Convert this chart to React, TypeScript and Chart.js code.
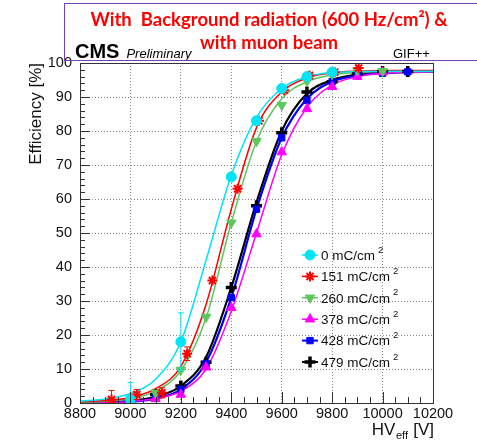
import React, { useEffect, useRef } from "react";
import { Chart, registerables } from "chart.js";
import { drawPoint } from "chart.js/helpers";

Chart.register(...registerables);

// ---------- data ----------
const seriesLabels = ["0", "151", "260", "378", "428", "479"];
const seriesColors = ["#00e5f5", "#ff0000", "#5cc85c", "#ff00ff", "#0000ff", "#000000"];

// measured points (HV_eff [V], efficiency [%])
const hv0 = [9000, 9200, 9400, 9500, 9600, 9700, 9800];
const eff0 = [1, 18, 66.5, 83, 92.5, 96, 97.3];
const err0 = [5, 8.5, 0, 0, 0, 0, 0];

const hv151 = [8925, 9025, 9125, 9225, 9325, 9425, 9510, 9610, 9710, 9810, 9905];
const eff151 = [1, 2.5, 3, 14.5, 36, 63, 83, 92, 96.3, 97.3, 98.5];
const err151 = [2.7, 1.5, 1.5, 2, 0, 0, 0, 0, 0, 0, 0];

const hv260 = [9000, 9100, 9200, 9300, 9400, 9500, 9600, 9700, 9800, 9900, 10000];
const eff260 = [1, 3, 9.7, 25.3, 53, 77, 87.6, 94.7, 96.7, 97.8, 97.6];

const hv378 = [9000, 9100, 9200, 9300, 9400, 9500, 9600, 9700, 9800, 9900, 10000];
const eff378 = [0.3, 1.2, 2.5, 10.5, 28, 49.7, 73.8, 86.5, 93, 96, 97.3];

const hv428 = [9000, 9100, 9200, 9300, 9400, 9500, 9600, 9700, 9800, 9900, 10000, 10100];
const eff428 = [0.5, 1.5, 4, 11.5, 31, 57, 78, 89, 94.5, 96.5, 97, 97.4];

const hv479 = [9000, 9100, 9200, 9300, 9400, 9500, 9600, 9700, 9800, 9900, 10000, 10100];
const eff479 = [0.8, 2.5, 5, 12, 34, 58, 79.5, 91.5, 94.5, 96.8, 97.5, 97.5];

// fitted curves
const fitHV = [8800, 8900, 9000, 9100, 9200, 9300, 9400, 9500, 9600, 9700, 9800, 9900, 10000, 10100, 10200];
const fit0 = [0.5, 1.2, 2.8, 7, 18, 42, 67, 84, 92.5, 96, 97.2, 97.5, 97.6, 97.6, 97.6];
const fit151 = [0.3, 0.7, 1.6, 4.2, 10.8, 29, 57, 81, 91.5, 95.6, 97.1, 97.6, 97.8, 97.8, 97.8];
const fit260 = [0.2, 0.5, 1.3, 3.5, 9.5, 25, 53, 77, 89.5, 94.5, 96.5, 97.2, 97.5, 97.5, 97.5];
const fit378 = [0, 0.1, 0.4, 1.3, 3.5, 10, 27, 50, 73, 87, 93.5, 96, 97, 97.3, 97.4];
const fit428 = [0, 0.1, 0.4, 1.3, 4, 12, 31, 57, 78, 89.5, 94.5, 96.3, 97, 97.3, 97.4];
const fit479 = [0, 0.15, 0.6, 1.8, 5, 13.5, 34, 59, 80, 91, 95, 96.6, 97.2, 97.4, 97.4];

const xTicks = [8800, 9000, 9200, 9400, 9600, 9800, 10000, 10200];
const yTicks = [0, 10, 20, 30, 40, 50, 60, 70, 80, 90, 100];

const pointHV = [hv0, hv151, hv260, hv378, hv428, hv479];
const pointEff = [eff0, eff151, eff260, eff378, eff428, eff479];
const pointErr = [err0, err151, null, null, null, null];
const fits = [fit0, fit151, fit260, fit378, fit428, fit479];

const markerStyles: any[] = [
  { pointStyle: "circle", radius: 5, rotation: 0, borderWidth: 1 },
  { pointStyle: "star", radius: 5, rotation: 0, borderWidth: 2 },
  { pointStyle: "triangle", radius: 5.5, rotation: 180, borderWidth: 1 },
  { pointStyle: "triangle", radius: 5.5, rotation: 0, borderWidth: 1 },
  { pointStyle: "rect", radius: 4.5, rotation: 0, borderWidth: 1 },
  { pointStyle: "cross", radius: 5.5, rotation: 0, borderWidth: 3.5 },
];
const fitWidths = [1.5, 1.5, 1.5, 1.5, 2.2, 2.2];

const FONT = "'Liberation Sans', Arial, Helvetica, sans-serif";

const rootPlugin = {
  id: "rootStyle",
  afterDatasetsDraw(chart: any) {
    const ctx = chart.ctx;
    const xs = chart.scales.x;
    const ys = chart.scales.y;
    ctx.save();
    pointErr.forEach((errs, si) => {
      if (!errs) return;
      ctx.strokeStyle = seriesColors[si];
      ctx.lineWidth = 1;
      errs.forEach((e, i) => {
        if (!e) return;
        const px = xs.getPixelForValue(pointHV[si][i]);
        const y1 = ys.getPixelForValue(Math.max(0, pointEff[si][i] - e));
        const y2 = ys.getPixelForValue(pointEff[si][i] + e);
        ctx.beginPath();
        ctx.moveTo(px, y1);
        ctx.lineTo(px, y2);
        ctx.moveTo(px - 3, y2);
        ctx.lineTo(px + 3, y2);
        ctx.moveTo(px - 3, y1);
        ctx.lineTo(px + 3, y1);
        ctx.stroke();
      });
    });
    ctx.restore();
  },
  afterDraw(chart: any) {
    const ctx = chart.ctx;
    const { left, right, top, bottom } = chart.chartArea;
    const xs = chart.scales.x;
    const ys = chart.scales.y;
    ctx.save();
    // frame
    ctx.strokeStyle = "#333";
    ctx.lineWidth = 1;
    ctx.strokeRect(Math.round(left) + 0.5, Math.round(top) + 0.5, Math.round(right - left), Math.round(bottom - top));
    // x ticks
    ctx.beginPath();
    for (let v = 8800; v <= 10200; v += 50) {
      const px = Math.round(xs.getPixelForValue(v)) + 0.5;
      const len = v % 200 === 0 ? 11 : 6;
      ctx.moveTo(px, bottom);
      ctx.lineTo(px, bottom - len);
    }
    // y ticks
    for (let v = 0; v <= 100; v += 2) {
      const py = Math.round(ys.getPixelForValue(v)) + 0.5;
      const len = v % 10 === 0 ? 10 : 5;
      ctx.moveTo(left, py);
      ctx.lineTo(left + len, py);
    }
    ctx.stroke();

    // axis titles
    ctx.fillStyle = "#111";
    ctx.font = `17px ${FONT}`;
    ctx.save();
    ctx.translate(41, top);
    ctx.rotate(-Math.PI / 2);
    ctx.textAlign = "right";
    ctx.textBaseline = "alphabetic";
    ctx.fillText("Efficiency [%]", 0, 0);
    ctx.restore();

    // HV_eff [V] right aligned
    ctx.textBaseline = "alphabetic";
    ctx.textAlign = "left";
    const f1 = `17px ${FONT}`;
    const f2 = `11px ${FONT}`;
    ctx.font = f1;
    const wHV = ctx.measureText("HV").width;
    const wV = ctx.measureText(" [V]").width;
    ctx.font = f2;
    const wEff = ctx.measureText("eff").width;
    let x0 = right - (wHV + wEff + wV);
    const base = 435;
    ctx.font = f1;
    ctx.fillText("HV", x0, base);
    ctx.font = f2;
    ctx.fillText("eff", x0 + wHV + 0.5, base + 4);
    ctx.font = f1;
    ctx.fillText(" [V]", x0 + wHV + wEff + 1, base);

    // legend
    const ly0 = 255;
    const dy = 21.4;
    seriesLabels.forEach((lab, i) => {
      const cy = ly0 + i * dy;
      const cx = 310;
      ctx.strokeStyle = seriesColors[i];
      ctx.lineWidth = fitWidths[i] > 2 ? 2 : 1.5;
      ctx.beginPath();
      ctx.moveTo(302, cy);
      ctx.lineTo(318, cy);
      ctx.stroke();
      ctx.fillStyle = seriesColors[i];
      ctx.strokeStyle = seriesColors[i];
      ctx.lineWidth = markerStyles[i].borderWidth;
      drawPoint(ctx, markerStyles[i], cx, cy);
      ctx.fillStyle = "#111";
      ctx.font = `13.5px ${FONT}`;
      ctx.textAlign = "left";
      ctx.textBaseline = "middle";
      const txt = `${lab} mC/cm`;
      ctx.fillText(txt, 321, cy + 1);
      const w = ctx.measureText(txt).width;
      ctx.font = `9.5px ${FONT}`;
      ctx.fillText("2", 321 + w + 3, cy - 5);
    });
    ctx.restore();
  },
};

export default function App() {
  const ref = useRef<HTMLCanvasElement | null>(null);
  useEffect(() => {
    if (!ref.current) return;
    const datasets: any[] = [];
    fits.forEach((f, i) => {
      datasets.push({
        type: "line",
        data: fitHV.map((x, j) => ({ x, y: f[j] })),
        borderColor: seriesColors[i],
        borderWidth: fitWidths[i],
        pointRadius: 0,
        cubicInterpolationMode: "monotone",
        fill: false,
        order: 1,
      });
    });
    pointHV.forEach((hv, i) => {
      const m = markerStyles[i];
      datasets.push({
        type: "line",
        showLine: false,
        data: hv.map((x, j) => ({ x, y: pointEff[i][j] })),
        borderColor: seriesColors[i],
        backgroundColor: seriesColors[i],
        pointStyle: m.pointStyle,
        pointRadius: m.radius,
        pointRotation: m.rotation,
        pointBorderWidth: m.borderWidth,
        pointBackgroundColor: seriesColors[i],
        pointBorderColor: seriesColors[i],
        order: 0,
      });
    });
    const chart = new Chart(ref.current, {
      type: "line",
      data: { datasets },
      options: {
        responsive: false,
        animation: false,
        devicePixelRatio: 1,
        layout: { padding: { left: 0, right: 44, top: 63, bottom: 0 } },
        plugins: { legend: { display: false }, tooltip: { enabled: false } },
        scales: {
          x: {
            type: "linear",
            min: 8800,
            max: 10200,
            afterBuildTicks: (s: any) => {
              s.ticks = xTicks.map((v) => ({ value: v }));
            },
            afterFit: (s: any) => {
              s.height = 39;
            },
            ticks: {
              callback: (v: any) => String(v),
              font: { family: FONT, size: 14.5 },
              color: "#111",
              padding: 2,
              maxRotation: 0,
              autoSkip: false,
            },
            grid: { color: "#8a8a8a", lineWidth: 1, drawTicks: false },
            border: { display: false, dash: [1, 2] },
          },
          y: {
            type: "linear",
            min: 0,
            max: 100,
            afterBuildTicks: (s: any) => {
              s.ticks = yTicks.map((v) => ({ value: v }));
            },
            afterFit: (s: any) => {
              s.width = 80;
            },
            ticks: {
              callback: (v: any) => String(v),
              font: { family: FONT, size: 14.5 },
              color: "#111",
              padding: 8,
            },
            grid: { color: "#8a8a8a", lineWidth: 1, drawTicks: false },
            border: { display: false, dash: [1, 2] },
          },
        },
      },
      plugins: [rootPlugin],
    } as any);
    return () => chart.destroy();
  }, []);

  return (
    <div style={{ position: "fixed", left: 0, top: 0, width: 477, height: 442, background: "#fff", overflow: "hidden" }}>
      <canvas ref={ref} width={477} height={442} style={{ position: "absolute", left: 0, top: 0 }} />
      <div
        style={{
          position: "absolute",
          left: 75,
          top: 40,
          fontFamily: FONT,
          color: "#000",
          whiteSpace: "nowrap",
        }}
      >
        <span style={{ fontWeight: "bold", fontSize: 20 }}>CMS</span>
        <span style={{ fontStyle: "italic", fontSize: 13, marginLeft: 7 }}>Preliminary</span>
      </div>
      <div style={{ position: "absolute", left: 393, top: 46, fontFamily: FONT, fontSize: 13, color: "#000" }}>GIF++</div>
      <div
        style={{
          position: "absolute",
          left: 64,
          top: 3,
          width: 430,
          height: 58,
          border: "1.5px solid #7a3fb0",
          boxSizing: "border-box",
        }}
      />
      <div
        style={{
          position: "absolute",
          left: 64,
          top: 8,
          width: 410,
          textAlign: "center",
          fontFamily: "Lato, 'Open Sans', sans-serif",
          fontWeight: "bold",
          fontSize: 18.5,
          lineHeight: "23px",
          color: "#ff0000",
          whiteSpace: "nowrap",
        }}
      >
        <div>With&nbsp; Background radiation (600 Hz/cm²) &amp;</div>
        <div>with muon beam</div>
      </div>
    </div>
  );
}
